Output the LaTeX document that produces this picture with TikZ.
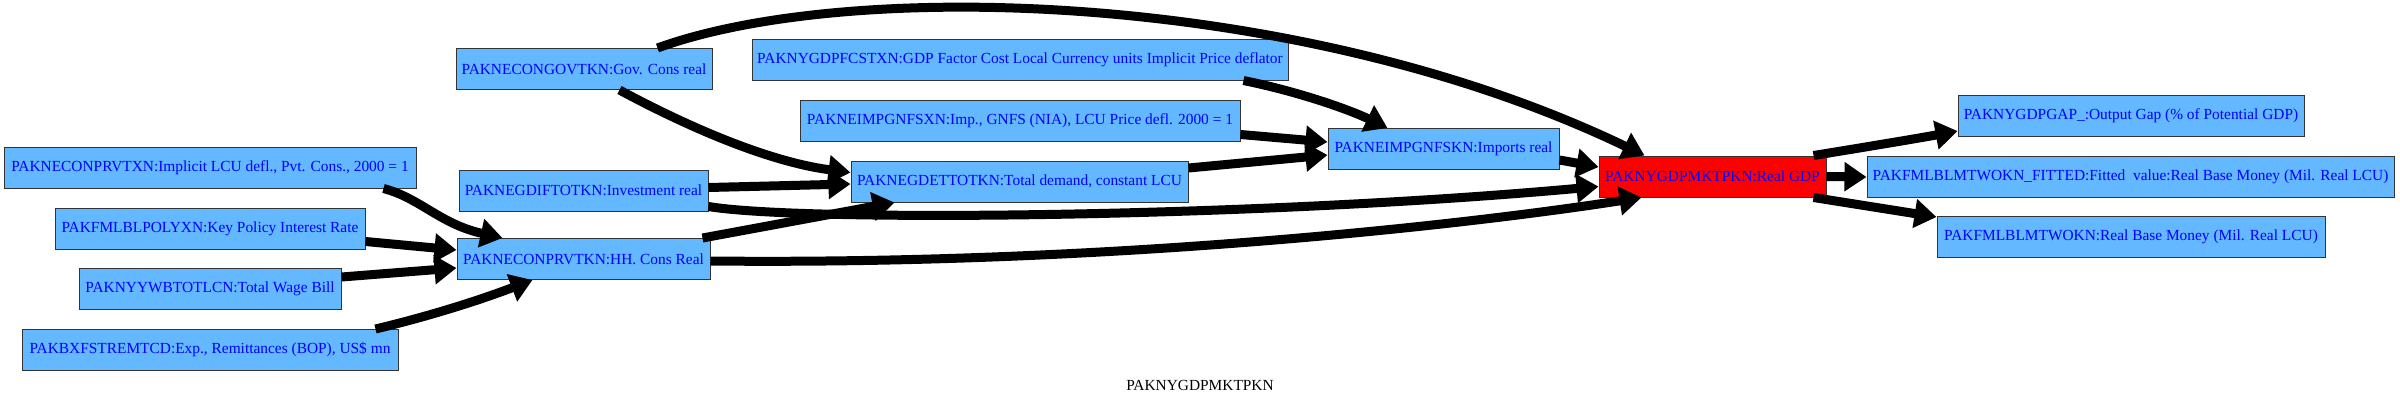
\documentclass[tikz,border=0pt]{standalone}
\usepackage{fontspec}
\setmainfont{Liberation Serif}
\usetikzlibrary{arrows.meta,calc}
\definecolor{boxblue}{HTML}{63B8FF}
\begin{document}
\begin{tikzpicture}[x=1pt,y=-1pt,
  box/.style={draw=black!80, line width=1pt, fill=boxblue, text=blue, inner sep=0pt,
    minimum height=41pt, font=\fontsize{15.4}{18}\selectfont},
  edge/.style={line width=9pt, line join=round, -{Triangle[length=22pt,width=28pt]}},
  lbl/.style={font=\fontsize{15.4}{18}\selectfont, text=black}]
\useasboundingbox (0,0) rectangle (2400,402);
% nodes
\node[box, minimum width=412pt] (prvtxn) at (210,167.5) {PAKNECONPRVTXN:Implicit LCU defl., Pvt. Cons., 2000 = 1};
\node[box, minimum width=310pt] (polyxn) at (210,228.5) {PAKFMLBLPOLYXN:Key Policy Interest Rate};
\node[box, minimum width=262pt] (ywb) at (210,289) {PAKNYYWBTOTLCN:Total Wage Bill};
\node[box, minimum width=376pt] (bxf) at (210,350) {PAKBXFSTREMTCD:Exp., Remittances (BOP), US\$ mn};
\node[box, minimum width=256pt] (govtkn) at (584,69) {PAKNECONGOVTKN:Gov. Cons real};
\node[box, minimum width=249pt] (gdif) at (583.5,190.5) {PAKNEGDIFTOTKN:Investment real};
\node[box, minimum width=253pt] (prvtkn) at (583.5,259) {PAKNECONPRVTKN:HH. Cons Real};
\node[box, minimum width=536pt] (fcstxn) at (1020,59.5) {PAKNYGDPFCSTXN:GDP Factor Cost Local Currency units Implicit Price deflator};
\node[box, minimum width=440pt] (impxn) at (1020,120.5) {PAKNEIMPGNFSXN:Imp., GNFS (NIA), LCU Price defl. 2000 = 1};
\node[box, minimum width=337pt] (gdet) at (1019.5,181.5) {PAKNEGDETTOTKN:Total demand, constant LCU};
\node[box, minimum width=231pt] (impkn) at (1443.5,149) {PAKNEIMPGNFSKN:Imports real};
\node[box, minimum width=227pt, fill=red] (gdp) at (1712.5,176.5) {PAKNYGDPMKTPKN:Real GDP};
\node[box, minimum width=346pt] (gap) at (2131,116) {PAKNYGDPGAP\_:Output Gap (\% of Potential GDP)};
\node[box, minimum width=527pt] (fitted) at (2130.5,177) {PAKFMLBLMTWOKN\_FITTED:Fitted\ \ value:Real Base Money (Mil. Real LCU)};
\node[box, minimum width=388pt] (mtwo) at (2131,237) {PAKFMLBLMTWOKN:Real Base Money (Mil. Real LCU)};
\node[lbl] (title) at (1200,385) {PAKNYGDPMKTPKN};
% edges
\draw[edge] ($(prvtxn.south east)+(-33,0)$) .. controls (420,198) and (440,224) .. ($(prvtkn.north west)+(46,0)$);
\draw[edge] ($(polyxn.east)+(0,13)$) -- ($(prvtkn.west)+(0,-9)$);
\draw[edge] ($(ywb.east)+(0,-12)$) -- ($(prvtkn.west)+(0,9)$);
\draw[edge] ($(bxf.north east)+(-23,0)$) .. controls (430,316) and (480,300) .. ($(prvtkn.south west)+(76,0)$);
\draw[edge] ($(govtkn.south west)+(164,0)$) .. controls (690,128) and (770,162) .. ($(gdet.west)+(0,-9)$);
\draw[edge] ($(govtkn.north west)+(202,0)$) .. controls (850,-22) and (1300,-10) .. ($(gdp.north west)+(46,0)$);
\draw[edge] ($(gdif.east)+(0,-3)$) -- ($(gdet.west)+(0,2.5)$);
\draw[edge] ($(gdif.east)+(0,16)$) .. controls (800,222) and (1250,218) .. ($(gdp.west)+(0,10)$);
\draw[edge] ($(prvtkn.north east)+(-8,0)$) -- ($(gdet.south west)+(44,0)$);
\draw[edge] ($(prvtkn.east)+(0,2)$) .. controls (1100,265) and (1450,227) .. ($(gdp.south west)+(43,0)$);
\draw[edge] ($(fcstxn.south east)+(-45,0)$) .. controls (1300,92) and (1350,110) .. ($(impkn.north west)+(60,0)$);
\draw[edge] ($(impxn.east)+(0,14)$) -- ($(impkn.west)+(0,-7)$);
\draw[edge] ($(gdet.east)+(0,-13.5)$) -- ($(impkn.west)+(0,6)$);
\draw[edge] ($(impkn.east)+(0,11)$) -- ($(gdp.west)+(0,-9.5)$);
\draw[edge] ($(gdp.north east)+(-13,0)$) .. controls (1860,148) and (1920,138) .. ($(gap.west)+(0,15)$);
\draw[edge] (gdp.east) -- (fitted.west);
\draw[edge] ($(gdp.south east)+(-13,0)$) -- ($(mtwo.north west)+(0,1)$);
\end{tikzpicture}
\end{document}
